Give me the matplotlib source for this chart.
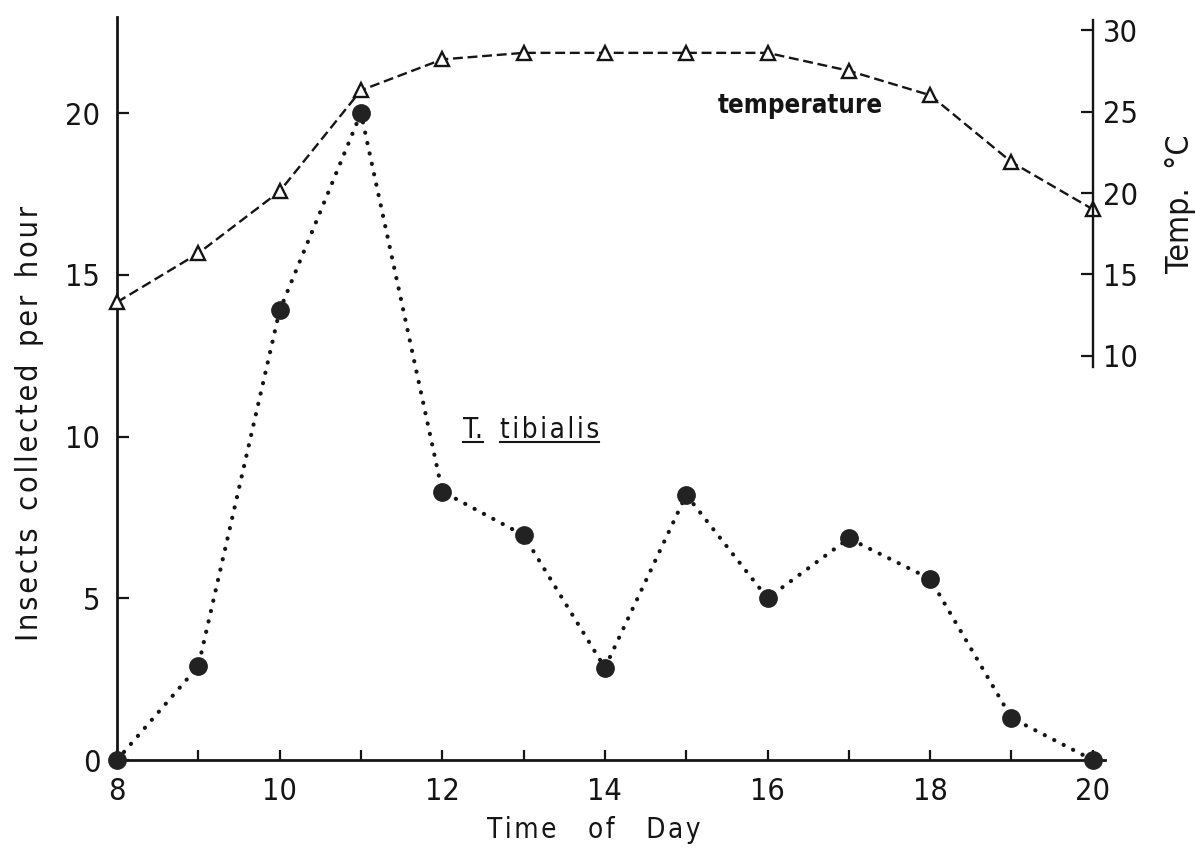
import matplotlib
matplotlib.use('Agg')
import matplotlib.pyplot as plt
from matplotlib.lines import Line2D

plt.rcParams['font.family'] = ['DejaVu Sans']
plt.rcParams['font.stretch'] = 'condensed'

# data
hours = [8, 9, 10, 11, 12, 13, 14, 15, 16, 17, 18, 19, 20]
insects = [0, 2.9, 13.9, 20.0, 8.3, 6.95, 2.85, 8.2, 5.0, 6.85, 5.6, 1.3, 0]
temperature = [13.3, 16.3, 20.1, 26.3, 28.2, 28.6, 28.6, 28.6, 28.6, 27.5, 26.0, 21.9, 19.0]

y_ticks = [0, 5, 10, 15, 20]
temp_ticks = [10, 15, 20, 25, 30]

INK = '#151515'
W, H = 1196, 868


def spaced(text, gap='   '):
    # the original lettering is tracked out, so pad letters with hair spaces
    return gap.join('\u200a'.join(word) for word in text.split())


fig = plt.figure(figsize=(W / 100, H / 100), dpi=100)
ax = fig.add_axes([117 / W, 1 - 760 / H, (1105 - 117) / W, (760 - 17) / H])
ax2 = ax.twinx()

# insects: dotted line with big filled dots
ax.plot(hours, insects, linestyle=(0, (0.05, 2.5)), dash_capstyle='round',
        linewidth=3.0, color=INK, zorder=3, clip_on=False)
ax.plot(hours, insects, linestyle='none', marker='o', markersize=12.5,
        color='#222222', zorder=4, clip_on=False)

# temperature: dashed line with open triangles
ax2.plot(hours, temperature, linestyle=(0, (4.2, 2.0)), linewidth=1.7,
         color=INK, marker='^', markersize=10, markerfacecolor='white',
         markeredgecolor=INK, markeredgewidth=1.7, clip_on=False)

ax.set_xlim(8, 20.15)
ax.set_ylim(0, 22.97)
ax2.set_ylim(-14.79, 30.8)

for s in ['top', 'right']:
    ax.spines[s].set_visible(False)
for s in ['top', 'left', 'bottom']:
    ax2.spines[s].set_visible(False)
ax.spines['left'].set_linewidth(2.0)
ax.spines['bottom'].set_linewidth(2.0)
ax.spines['left'].set_color(INK)
ax.spines['bottom'].set_color(INK)
ax2.spines['right'].set_position(('data', 20))
ax2.spines['right'].set_bounds(9.3, 30.6)
ax2.spines['right'].set_linewidth(1.7)
ax2.spines['right'].set_color(INK)

ax.set_xticks(hours)
ax.set_xticklabels([str(h) if h % 2 == 0 else '' for h in hours])
ax.set_yticks(y_ticks)
ax.tick_params(axis='x', direction='in', length=7.5, width=1.6, pad=12,
               labelsize=22, colors=INK)
ax.tick_params(axis='y', direction='in', length=8.5, width=1.6, pad=12,
               labelsize=22, colors=INK)
ax2.set_yticks(temp_ticks)
ax2.tick_params(axis='y', direction='in', length=8.5, width=1.6, pad=7,
                labelsize=22, colors=INK)

fig.text(30 / W, 1 - 423 / H, spaced('Insects collected per hour', '  '),
         rotation=90, ha='center', va='center', fontsize=22, color=INK)
fig.text(594 / W, 1 - 830 / H, spaced('Time of Day', '    '), ha='center',
         va='center', fontsize=20, color=INK)
fig.text(1181 / W, 1 - 204 / H, 'Temp.  \u00b0C', rotation=90, ha='center',
         va='center', fontsize=23, color=INK)

ax.text(16.4, 20.0, 'temperature', ha='center', va='baseline', fontsize=18.5,
        color=INK, fontweight='bold')
t1 = ax.text(12.26, 9.95, 'T.', ha='left', va='baseline', fontsize=20, color=INK)
t2 = ax.text(12.71, 9.95, spaced('tibialis'), ha='left', va='baseline',
             fontsize=20, color=INK)

# underline the species name
fig.canvas.draw()
r = fig.canvas.get_renderer()
for t in (t1, t2):
    bb = t.get_window_extent(renderer=r)
    y = bb.y0 + 2
    fig.add_artist(Line2D([bb.x0 / W, bb.x1 / W], [y / H, y / H],
                          color=INK, linewidth=1.5))

fig.savefig('out.png', dpi=100, facecolor='white')
